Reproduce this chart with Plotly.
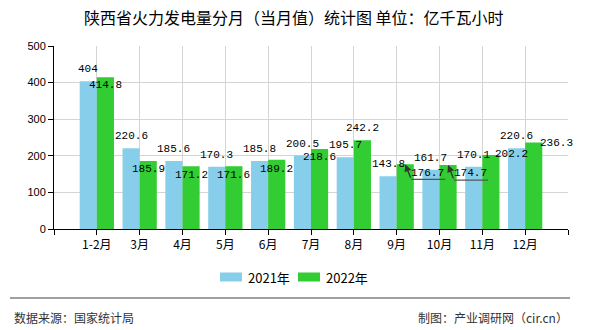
import plotly.graph_objects as go

# ---- data -------------------------------------------------------------
months = ["1-2月", "3月", "4月", "5月", "6月", "7月", "8月", "9月", "10月", "11月", "12月"]
series_names = ["2021年", "2022年"]
values_2021 = [404, 220.6, 185.6, 170.3, 185.8, 200.5, 195.7, 143.8, 161.7, 170.1, 220.6]
values_2022 = [414.8, 185.9, 171.2, 171.6, 189.2, 218.6, 242.2, 176.7, 174.7, 202.2, 236.3]

title_text = "陕西省火力发电量分月（当月值）统计图 单位：亿千瓦小时"
source_text = "数据来源：国家统计局"
maker_text = "制图：产业调研网（cir.cn）"

# ---- style ------------------------------------------------------------
COLOR_2021 = "#87CEEB"
COLOR_2022 = "#32CD32"
GRID = "#d4d4d4"
CJK = "Noto Sans CJK SC"
MONO = "Liberation Mono"

# label placement (pixel shifts from each bar's top centre)
LABEL_DY_2021 = 12
LABEL_DX_2022 = [0, 0, 0, 0, 0, 0, 0, 22, 22, 21, 23]
LABEL_DY_2022 = [-8, -8, -9, -9, -9, -8, 12, -9, -8, 1, 0]
LEADER_2022 = [False] * 7 + [True, True, False, False]

W, H = 590, 330
L, R, T, B = 54, 22, 46, 101
PW, PH = W - L - R, H - T - B


def px(xp):
    return (xp - L) / PW


def py(yp):
    return (H - B - yp) / PH


xs = list(range(len(months)))

fig = go.Figure()
fig.add_trace(go.Bar(x=xs, y=values_2021, name=series_names[0],
                     marker=dict(color=COLOR_2021, line=dict(width=0))))
fig.add_trace(go.Bar(x=xs, y=values_2022, name=series_names[1],
                     marker=dict(color=COLOR_2022, line=dict(width=0))))

annotations = []
shapes = []
label_font = dict(family=MONO, size=11, color="#000")

for i, v in enumerate(values_2021):
    annotations.append(dict(x=i - 0.2, y=v, xref="x", yref="y", text=f"{v:g}",
                            showarrow=False, yshift=LABEL_DY_2021,
                            xanchor="center", yanchor="middle", font=label_font))

for i, v in enumerate(values_2022):
    annotations.append(dict(x=i + 0.2, y=v, xref="x", yref="y", text=f"{v:g}",
                            showarrow=False, xshift=LABEL_DX_2022[i],
                            yshift=LABEL_DY_2022[i],
                            xanchor="center", yanchor="middle", font=label_font))
    if LEADER_2022[i]:
        # bent leader line: arrow to the bar top, then a rule under the label
        annotations.append(dict(x=i + 0.2, y=v, xref="x", yref="y", text="",
                                showarrow=True, ax=6, ay=15, arrowhead=2,
                                arrowsize=1.1, arrowwidth=1.3, arrowcolor="#333",
                                standoff=0))
        shapes.append(dict(type="line", xref="x", yref="y",
                           xsizemode="pixel", ysizemode="pixel",
                           xanchor=i + 0.2, yanchor=v,
                           x0=6, x1=40, y0=-15, y1=-15,
                           line=dict(color="#555", width=1.3)))

# legend drawn as wide swatches with labels
legend_items = [(series_names[0], COLOR_2021, 220), (series_names[1], COLOR_2022, 298)]
for name, color, x0 in legend_items:
    shapes.append(dict(type="rect", xref="paper", yref="paper",
                       x0=px(x0), x1=px(x0 + 22), y0=py(281.5), y1=py(272.5),
                       fillcolor=color, line=dict(width=0)))
    annotations.append(dict(x=px(x0 + 26), y=py(277), xref="paper", yref="paper",
                            text=name, showarrow=False, xanchor="left", yanchor="middle",
                            font=dict(family=CJK, size=13, color="#000")))

# footer rule and texts
shapes.append(dict(type="line", xref="paper", yref="paper",
                   x0=px(10), x1=px(570), y0=py(298), y1=py(298),
                   line=dict(color="#808080", width=1.5)))
annotations.append(dict(x=px(12), y=py(317), xref="paper", yref="paper",
                        text=source_text, showarrow=False, xanchor="left", yanchor="middle",
                        font=dict(family=CJK, size=12, color="#333")))
annotations.append(dict(x=px(570), y=py(317), xref="paper", yref="paper",
                        text=maker_text, showarrow=False, xanchor="right", yanchor="middle",
                        font=dict(family=CJK, size=12, color="#333")))

# title
annotations.append(dict(x=px(294), y=py(17), xref="paper", yref="paper",
                        text=title_text, showarrow=False, xanchor="center", yanchor="middle",
                        font=dict(family=CJK, size=16, color="#000")))

tickvals = [-1] + xs + [len(months)]
ticktext = [""] + months + [""]

fig.update_layout(
    width=W, height=H,
    margin=dict(l=L, r=R, t=T, b=B, pad=0),
    paper_bgcolor="white", plot_bgcolor="white",
    barmode="group", bargap=0.2, bargroupgap=0,
    showlegend=False,
    annotations=annotations, shapes=shapes,
    xaxis=dict(range=[-1, len(months)], tickmode="array", tickvals=tickvals, ticktext=ticktext,
               showgrid=True, gridcolor=GRID, gridwidth=1,
               showline=True, linecolor="#000", linewidth=1,
               ticks="outside", ticklen=5, tickcolor="#000",
               tickfont=dict(family=CJK, size=12, color="#000"), zeroline=False),
    yaxis=dict(range=[0, 500], dtick=100, tick0=0,
               showgrid=True, gridcolor=GRID, gridwidth=1,
               showline=True, linecolor="#000", linewidth=1,
               ticks="outside", ticklen=5, tickcolor="#000",
               tickfont=dict(family="Liberation Sans", size=11, color="#000"), zeroline=False),
)

fig.write_html("out.html")
